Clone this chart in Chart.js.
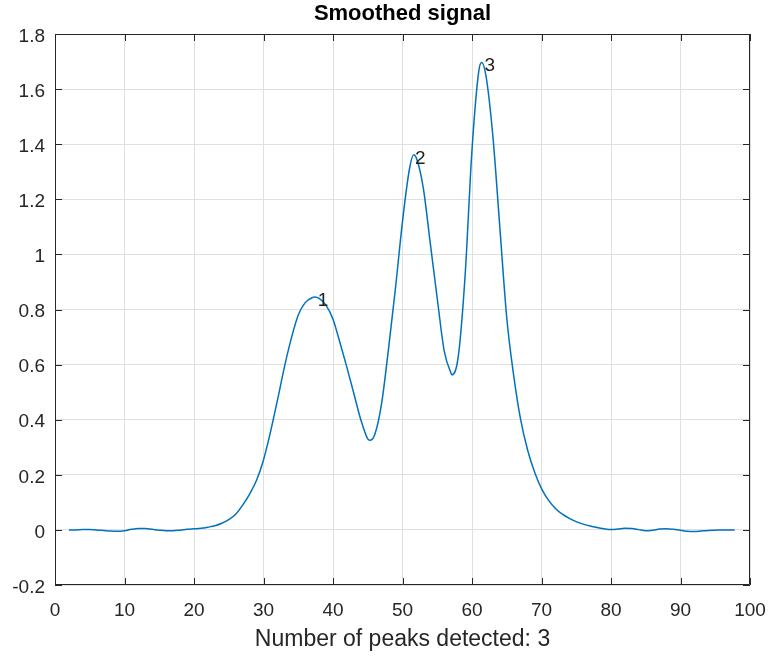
<!DOCTYPE html>
<html lang="en">
<head>
    <meta charset="UTF-8">
    <title>Smoothed signal</title>
    <script src="https://cdn.jsdelivr.net/npm/chart.js"></script>
    <style>
        body { margin: 0; background: #fff; }
        #wrap { width: 769px; height: 656px; }
    </style>
</head>
<body>
    <div id="wrap">
        <canvas id="signalChart" width="769" height="656"></canvas>
    </div>

    <script>
        // Значения
        const xValues = [2, 3, 4, 5, 6, 7, 8, 9, 10, 11, 12, 13, 14, 15, 16, 17, 18, 19, 20, 21, 22, 23, 24, 25,
            26, 27, 28, 29, 30, 31, 32, 33, 34, 35, 36, 37, 37.4, 38, 39, 40, 41, 42, 43, 44, 45, 45.3, 46, 47, 48,
            49, 50, 51, 51.6, 52, 53, 54, 55, 56, 57, 57.1, 58, 59, 60, 61, 61.4, 62, 63, 64, 65, 66, 67, 68, 69,
            70, 71, 72, 73, 74, 75, 76, 77, 78, 79, 80, 81, 82, 83, 84, 85, 86, 87, 88, 89, 90, 91, 92, 93, 94,
            95, 96, 97, 97.8];
        const yValues = [0.000, 0.000, 0.001, 0.001, 0.000, -0.002, -0.004, -0.005, -0.003, 0.002, 0.005, 0.005,
            0.002, -0.001, -0.003, -0.003, -0.001, 0.002, 0.004, 0.006, 0.010, 0.015, 0.024, 0.037,
            0.057, 0.090, 0.130, 0.180, 0.254, 0.355, 0.470, 0.590, 0.695, 0.780, 0.825, 0.843, 0.845, 0.840,
            0.815, 0.765, 0.680, 0.590, 0.495, 0.400, 0.330, 0.325, 0.345, 0.460, 0.660,
            0.880, 1.120, 1.310, 1.362, 1.350, 1.240, 1.040, 0.840, 0.650, 0.568, 0.563, 0.625, 0.920, 1.380,
            1.670, 1.697, 1.650, 1.430, 1.100, 0.770, 0.560, 0.400, 0.290, 0.210,
            0.150, 0.108, 0.078, 0.057, 0.042, 0.030, 0.021, 0.014, 0.009, 0.004, 0.001, 0.003, 0.006, 0.005,
            0.001, -0.003, -0.001, 0.003, 0.004, 0.002, -0.001, -0.005, -0.006, -0.004, -0.002,
            -0.001, 0.000, 0.000, 0.000];

        // Подписи пиков
        const peakLabels = ['1', '2', '3'];
        const peakLabelX = [37.8, 51.8, 61.8];
        const peakLabelY = [0.83, 1.347, 1.684];

        const xTicks = [0, 10, 20, 30, 40, 50, 60, 70, 80, 90, 100];
        const yTicks = [-0.2, 0, 0.2, 0.4, 0.6, 0.8, 1, 1.2, 1.4, 1.6, 1.8];

        const FONT = 'Liberation Sans, Arial, Helvetica, sans-serif';
        const AXIS = '#262626';

        Chart.defaults.font.family = FONT;
        Chart.defaults.color = AXIS;

        // Рамка, засечки внутрь, подписи оси Y, заголовок и номера пиков — как в MATLAB
        const matlabAxes = {
            id: 'matlabAxes',
            afterDraw(chart) {
                const { ctx, chartArea: a, scales: { x, y } } = chart;
                ctx.save();
                ctx.strokeStyle = AXIS;
                ctx.lineWidth = 1;
                ctx.beginPath();
                ctx.rect(Math.round(a.left) + 0.5, Math.round(a.top) + 0.5,
                    Math.round(a.right - a.left) - 1, Math.round(a.bottom - a.top) - 1);
                xTicks.forEach(v => {
                    const px = Math.round(x.getPixelForValue(v)) + 0.5;
                    ctx.moveTo(px, a.bottom); ctx.lineTo(px, a.bottom - 7);
                    ctx.moveTo(px, a.top); ctx.lineTo(px, a.top + 7);
                });
                yTicks.forEach(v => {
                    const py = Math.round(y.getPixelForValue(v)) + 0.5;
                    ctx.moveTo(a.left, py); ctx.lineTo(a.left + 7, py);
                    ctx.moveTo(a.right, py); ctx.lineTo(a.right - 7, py);
                });
                ctx.stroke();

                ctx.fillStyle = AXIS;
                ctx.font = '19px ' + FONT;
                ctx.textAlign = 'right';
                ctx.textBaseline = 'middle';
                yTicks.forEach(v => {
                    ctx.fillText(String(v), a.left - 10, y.getPixelForValue(v) + 2.5);
                });

                ctx.fillStyle = '#000';
                ctx.font = 'bold 22px ' + FONT;
                ctx.textAlign = 'center';
                ctx.fillText('Smoothed signal', (a.left + a.right) / 2, 14);

                ctx.fillStyle = '#222';
                ctx.font = '19px ' + FONT;
                ctx.textAlign = 'left';
                peakLabels.forEach((t, i) => {
                    ctx.fillText(t, x.getPixelForValue(peakLabelX[i]), y.getPixelForValue(peakLabelY[i]));
                });
                ctx.restore();
            }
        };

        new Chart(document.getElementById('signalChart'), {
            type: 'line',
            data: {
                datasets: [{
                    data: xValues.map((v, i) => ({ x: v, y: yValues[i] })),
                    borderColor: '#0072BD',
                    borderWidth: 1.5,
                    pointRadius: 0,
                    fill: false,
                    cubicInterpolationMode: 'monotone'
                }]
            },
            options: {
                responsive: false,
                animation: false,
                layout: { padding: { left: 0, right: 19, top: 34, bottom: 0 } },
                plugins: {
                    legend: { display: false },
                    tooltip: { enabled: false },
                    title: { display: false }
                },
                scales: {
                    x: {
                        type: 'linear',
                        min: 0,
                        max: 100,
                        afterBuildTicks: s => { s.ticks = xTicks.map(v => ({ value: v })); },
                        afterFit: s => { s.height = 71; s.paddingLeft = 0; s.paddingRight = 0; },
                        ticks: { font: { size: 19 }, padding: 14, maxRotation: 0, callback: v => String(v) },
                        grid: { color: '#dfdfdf', drawTicks: false },
                        border: { display: false },
                        title: {
                            display: true,
                            text: 'Number of peaks detected: 3',
                            font: { size: 23 },
                            padding: { top: 0, bottom: 2.2 }
                        }
                    },
                    y: {
                        min: -0.2,
                        max: 1.8,
                        afterBuildTicks: s => { s.ticks = yTicks.map(v => ({ value: v })); },
                        afterFit: s => { s.width = 55; s.paddingTop = 0; s.paddingBottom = 0; },
                        ticks: { display: false },
                        grid: { color: '#dfdfdf', drawTicks: false },
                        border: { display: false }
                    }
                }
            },
            plugins: [matlabAxes]
        });
    </script>
</body>
</html>
